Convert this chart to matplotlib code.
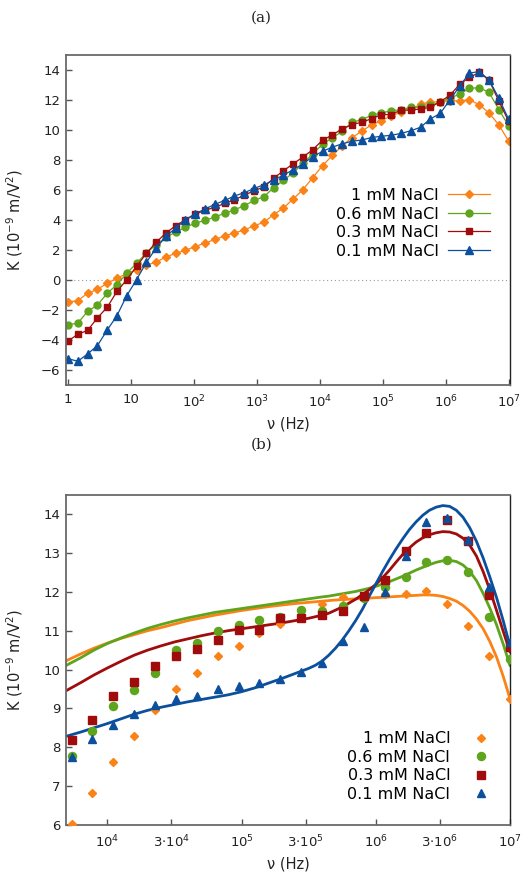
import numpy as np
import matplotlib
matplotlib.use('Agg')
import matplotlib.pyplot as plt
from matplotlib.ticker import NullLocator

# ---------------- data ----------------
freq = [1.0, 1.431, 2.047, 2.929, 4.192, 5.995, 8.577, 12.27, 17.56, 25.12,
        35.94, 51.42, 73.56, 105.3, 150.6, 215.4, 308.3, 441.1, 631.0, 902.8,
        1292, 1848, 2644, 3783, 5412, 7743, 11080, 15850, 22680, 32440,
        46420, 66420, 95030, 1.360e5, 1.945e5, 2.783e5, 3.981e5, 5.696e5, 8.150e5, 1.166e6,
        1.668e6, 2.387e6, 3.415e6, 4.886e6, 6.990e6, 1.0e7]

k_1mM = [-1.47, -1.38, -0.88, -0.63, -0.22, 0.12, 0.42, 0.68, 0.98, 1.20,
         1.53, 1.78, 1.98, 2.23, 2.47, 2.70, 2.95, 3.13, 3.35, 3.60,
         3.86, 4.35, 4.80, 5.40, 6.03, 6.83, 7.63, 8.30, 8.95, 9.49,
         9.92, 10.35, 10.61, 10.95, 11.17, 11.40, 11.70, 11.88, 11.85, 11.95,
         11.94, 12.02, 11.68, 11.13, 10.34, 9.25]
k_06mM = [-2.98, -2.88, -2.09, -1.68, -0.89, -0.31, 0.45, 1.12, 1.80, 2.35,
          2.84, 3.20, 3.50, 3.80, 3.97, 4.20, 4.45, 4.68, 4.95, 5.30,
          5.55, 6.15, 6.65, 7.15, 7.77, 8.42, 9.05, 9.48, 9.91, 10.51,
          10.69, 10.98, 11.14, 11.28, 11.35, 11.52, 11.51, 11.64, 11.85, 12.13,
          12.39, 12.78, 12.82, 12.50, 11.36, 10.27]
k_03mM = [-4.07, -3.62, -3.36, -2.53, -1.82, -0.76, 0.02, 0.90, 1.78, 2.51,
          3.13, 3.62, 4.02, 4.38, 4.65, 4.85, 5.10, 5.35, 5.65, 5.95,
          6.20, 6.78, 7.28, 7.75, 8.20, 8.69, 9.33, 9.67, 10.08, 10.36,
          10.52, 10.75, 11.03, 11.03, 11.33, 11.33, 11.40, 11.51, 11.89, 12.31,
          13.05, 13.51, 13.84, 13.32, 11.92, 10.58]
k_01mM = [-5.24, -5.42, -4.93, -4.38, -3.34, -2.38, -1.04, 0.02, 1.17, 2.13,
          2.90, 3.47, 4.02, 4.42, 4.73, 5.05, 5.30, 5.60, 5.82, 6.10,
          6.35, 6.65, 7.00, 7.35, 7.75, 8.22, 8.58, 8.86, 9.08, 9.25,
          9.33, 9.50, 9.58, 9.65, 9.77, 9.95, 10.18, 10.74, 11.10, 12.00,
          12.93, 13.80, 13.89, 13.34, 12.12, 10.71]

# fitted curves (panel b), sampled in log10(frequency)
fit_logf = [3.69, 3.8, 3.9, 4.0, 4.1, 4.2, 4.3, 4.4, 4.5, 4.6,
            4.7, 4.8, 4.9, 5.0, 5.1, 5.2, 5.3, 5.4, 5.5,
            5.55, 5.6, 5.65, 5.7, 5.75, 5.8, 5.85, 5.9, 5.95, 6.0,
            6.05, 6.1, 6.15, 6.2, 6.25, 6.3, 6.35, 6.4, 6.45, 6.5,
            6.55, 6.6, 6.65, 6.7, 6.75, 6.8, 6.85, 6.9, 6.95, 7.0]
fit_1mM = [10.22, 10.40, 10.55, 10.68, 10.80, 10.90, 11.00, 11.08, 11.17, 11.26,
           11.33, 11.40, 11.46, 11.52, 11.57, 11.62, 11.66, 11.70, 11.73,
           11.745, 11.76, 11.775, 11.79, 11.80, 11.81, 11.82, 11.83, 11.84, 11.85,
           11.86, 11.87, 11.88, 11.89, 11.90, 11.91, 11.92, 11.92, 11.91, 11.88,
           11.83, 11.76, 11.65, 11.50, 11.30, 11.05, 10.72, 10.32, 9.82, 9.25]
fit_06mM = [10.10, 10.30, 10.50, 10.67, 10.81, 10.94, 11.06, 11.16, 11.25, 11.33,
            11.40, 11.47, 11.52, 11.57, 11.62, 11.67, 11.72, 11.77, 11.82,
            11.845, 11.87, 11.89, 11.92, 11.95, 11.98, 12.01, 12.05, 12.09, 12.14,
            12.20, 12.26, 12.33, 12.40, 12.48, 12.56, 12.63, 12.70, 12.76, 12.80,
            12.81, 12.78, 12.69, 12.53, 12.29, 11.96, 11.58, 11.15, 10.65, 10.10]
fit_03mM = [9.45, 9.66, 9.86, 10.04, 10.21, 10.37, 10.50, 10.61, 10.71, 10.79,
            10.87, 10.94, 11.00, 11.05, 11.10, 11.15, 11.20, 11.26, 11.32,
            11.36, 11.40, 11.45, 11.53, 11.61, 11.71, 11.81, 11.93, 12.05, 12.19,
            12.36, 12.55, 12.76, 12.96, 13.13, 13.28, 13.39, 13.47, 13.52, 13.55,
            13.54, 13.49, 13.38, 13.20, 12.92, 12.52, 12.05, 11.52, 10.98, 10.45]
fit_01mM = [8.28, 8.39, 8.50, 8.61, 8.73, 8.85, 8.95, 9.03, 9.10, 9.17,
            9.23, 9.29, 9.35, 9.43, 9.53, 9.65, 9.77, 9.90, 10.03,
            10.11, 10.22, 10.37, 10.55, 10.76, 11.00, 11.26, 11.55, 11.88, 12.20,
            12.52, 12.82, 13.10, 13.36, 13.60, 13.80, 13.97, 14.10, 14.18, 14.22,
            14.20, 14.10, 13.92, 13.65, 13.30, 12.87, 12.38, 11.85, 11.25, 10.60]

labels = ['1 mM NaCl', '0.6 mM NaCl', '0.3 mM NaCl', '0.1 mM NaCl']
series = [k_1mM, k_06mM, k_03mM, k_01mM]
fits = [fit_1mM, fit_06mM, fit_03mM, fit_01mM]
colors = ['#fb8216', '#5ea41c', '#a00c0c', '#0c4f9c']
markers = ['D', 'o', 's', '^']
ms_top = [3.8, 5.0, 4.7, 5.6]
ms_bot = [4.3, 5.8, 5.3, 6.2]

top_xticks = [1, 10, 1e2, 1e3, 1e4, 1e5, 1e6, 1e7]
top_xticklabels = ['1', '10', '$10^2$', '$10^3$', '$10^4$', '$10^5$', '$10^6$', '$10^7$']
top_yticks = [-6, -4, -2, 0, 2, 4, 6, 8, 10, 12, 14]
bot_xticks = [1e4, 3e4, 1e5, 3e5, 1e6, 3e6, 1e7]
bot_xticklabels = ['$10^4$', r'$3{\cdot}10^4$', '$10^5$', r'$3{\cdot}10^5$',
                   '$10^6$', r'$3{\cdot}10^6$', '$10^7$']
bot_yticks = [6, 7, 8, 9, 10, 11, 12, 13, 14]

# ---------------- figure ----------------
W, H = 523, 872
fig = plt.figure(figsize=(W / 100, H / 100), dpi=100)
ax1 = fig.add_axes([66 / W, 1 - 385 / H, 444 / W, 330 / H])
ax2 = fig.add_axes([66 / W, 1 - 825 / H, 444 / W, 330.3 / H])

freq_arr = np.array(freq)
sub = slice(24, None)

for ax in (ax1, ax2):
    ax.set_xscale('log')
    ax.xaxis.set_minor_locator(NullLocator())
    ax.yaxis.set_minor_locator(NullLocator())
    for s in ['left', 'top', 'bottom']:
        ax.spines[s].set_color('#6a6a6a')
        ax.spines[s].set_linewidth(1.3)
    ax.spines['right'].set_color('#222222')
    ax.spines['right'].set_linewidth(1.0)
    ax.tick_params(axis='both', which='both', direction='in', length=4.5, width=1,
                   color='#555555', labelsize=9.5, labelcolor='#222222',
                   top=False, right=False)
    ax.tick_params(axis='x', pad=6)
    ax.tick_params(axis='y', pad=4)
    ax.set_ylabel('K (10$^{-9}$ m/V$^2$)', fontsize=10.5, color='#222222')
    ax.set_xlabel('ν (Hz)', fontsize=10.5, color='#222222')
    ax.yaxis.set_label_coords(-0.093, 0.5)
    ax.xaxis.set_label_coords(0.5, -0.094)

# panel (a)
ax1.axhline(0, color='#9a9a9a', lw=0.8, ls=(0, (1, 2.5)), zorder=0)
for y, lab, c, m, ms in zip(series, labels, colors, markers, ms_top):
    ax1.plot(freq_arr, y, color=c, lw=0.9, marker=m, ms=ms, mec=c, mfc=c, label=lab)
ax1.set_xlim(0.93, 1.05e7)
ax1.set_ylim(-7, 15)
ax1.set_xticks(top_xticks)
ax1.set_xticklabels(top_xticklabels)
ax1.set_yticks(top_yticks)
ax1.legend(loc='center right', bbox_to_anchor=(0.955, 0.49), frameon=False,
           markerfirst=False, fontsize=11.5, handlelength=2.6, handletextpad=0.6,
           labelspacing=0.22, borderpad=0, borderaxespad=0)

# panel (b)
fit_f = 10 ** np.array(fit_logf)
for fy, c in zip(fits, colors):
    ax2.plot(fit_f, fy, color=c, lw=2.0, zorder=2, solid_capstyle='round',
             solid_joinstyle='round')
for y, lab, c, m, ms in zip(series, labels, colors, markers, ms_bot):
    ax2.plot(freq_arr[sub], np.array(y)[sub], ls='none', marker=m, ms=ms,
             color=c, mec=c, label=lab, zorder=3)
ax2.set_xlim(10 ** 3.692, 1e7)
ax2.set_ylim(6, 14.5)
ax2.set_xticks(bot_xticks)
ax2.set_xticklabels(bot_xticklabels)
ax2.set_yticks(bot_yticks)
ax2.legend(loc='center right', bbox_to_anchor=(0.984, 0.177), frameon=False,
           markerfirst=False, fontsize=11.5, handlelength=2.7, handletextpad=0.6,
           labelspacing=0.22, borderpad=0, borderaxespad=0)

fig.text(0.5, 1 - 18 / H, '(a)', ha='center', va='center', fontsize=11,
         family='DejaVu Serif', color='#222222')
fig.text(0.5, 1 - 445 / H, '(b)', ha='center', va='center', fontsize=11,
         family='DejaVu Serif', color='#222222')

fig.savefig('out.png', dpi=100)
